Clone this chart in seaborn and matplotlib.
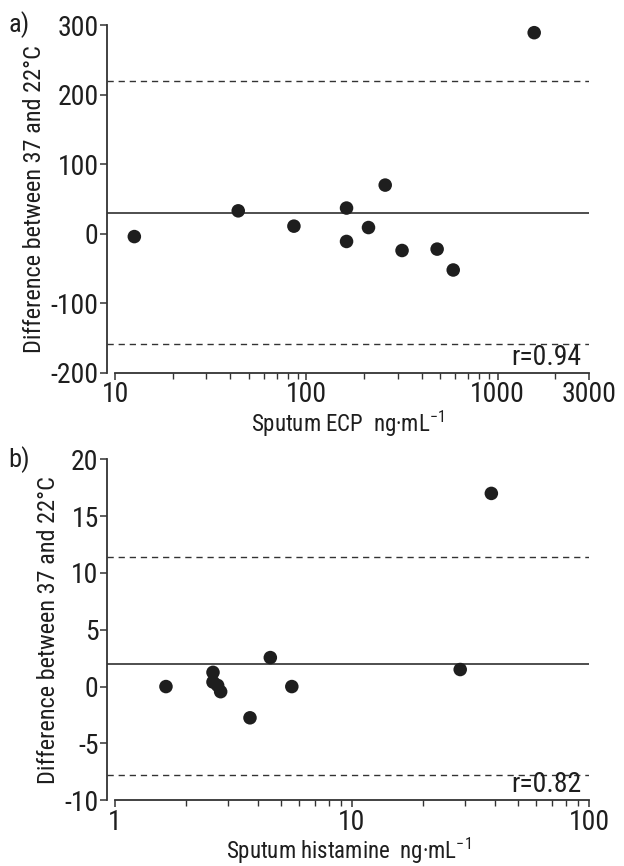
import matplotlib
matplotlib.use('Agg')
import matplotlib.pyplot as plt
import seaborn as sns
import pandas as pd

# Panel a: sputum ECP (ng/mL) vs difference between 37 and 22 C
ecp_x = [12.6, 44, 86, 162, 162, 211, 258, 316, 482, 585, 1550]
ecp_diff = [-4, 33, 11, 37, -11, 9, 70, -24, -22, -52, 289]
ecp_mean = 30.5
ecp_limits = [220, -158]
ecp_r = 'r=0.94'

# Panel b: sputum histamine (ng/mL)
hist_x = [1.64, 2.59, 2.59, 2.71, 2.79, 3.71, 4.52, 5.57, 28.6, 38.7]
hist_diff = [0, 1.25, 0.4, 0.1, -0.45, -2.75, 2.55, 0, 1.5, 17]
hist_mean = 2.0
hist_limits = [11.4, -7.8]
hist_r = 'r=0.82'

ecp_ticks = [10, 100, 1000, 3000]
ecp_yticks = [-200, -100, 0, 100, 200, 300]
hist_ticks = [1, 10, 100]
hist_yticks = [-10, -5, 0, 5, 10, 15, 20]

sns.set_style('ticks')
plt.rcParams['font.family'] = ['DejaVu Sans Condensed', 'Liberation Sans Narrow',
                               'Roboto Condensed', 'Roboto', 'DejaVu Sans']
plt.rcParams['font.stretch'] = 'condensed'
plt.rcParams['mathtext.default'] = 'regular'
plt.rcParams['font.size'] = 15

ink = '#1e1e1e'
fig = plt.figure(figsize=(6.24, 8.66), dpi=100)
ax1 = fig.add_axes([0.1715, 0.5693, 0.7725, 0.4018])
ax2 = fig.add_axes([0.1715, 0.0760, 0.7725, 0.3936])


def draw_panel(ax, xs, ys, mean, limits, rtext, xlim, ylim, xticks, yticks, xlabel, tag):
    df = pd.DataFrame({'x': xs, 'y': ys})
    sns.scatterplot(data=df, x='x', y='y', ax=ax, color=ink, s=95,
                    edgecolor='none', zorder=3)
    ax.axhline(mean, color=ink, lw=1.1)
    for lim in limits:
        ax.axhline(lim, color='#333333', lw=1.0, ls=(0, (4.5, 3.5)))
    ax.set_xscale('log')
    ax.set_xlim(*xlim)
    ax.set_ylim(*ylim)
    ax.set_xticks(xticks)
    ax.set_xticklabels([str(t) for t in xticks])
    ax.set_yticks(yticks)
    ax.set_yticklabels([str(t) for t in yticks])
    ax.spines['right'].set_visible(False)
    ax.spines['top'].set_visible(False)
    ax.spines['bottom'].set_bounds(xticks[0], xticks[-1])
    for sp in ('left', 'bottom'):
        ax.spines[sp].set_color('#333333')
        ax.spines[sp].set_linewidth(1.3)
    ax.tick_params(axis='both', which='major', length=5, width=1.1,
                   color='#333333', labelcolor=ink, labelsize=20, pad=1)
    ax.tick_params(axis='x', which='minor', length=4, width=1.0, color='#333333')
    ax.set_xlabel(xlabel, fontsize=16.5, color=ink, labelpad=0)
    ax.set_ylabel('Difference between 37 and 22°C', fontsize=17.5, color=ink, labelpad=3)
    ax.text(0.985, 0.005, rtext, transform=ax.transAxes, ha='right', va='bottom',
            fontsize=20, color=ink)
    ax.text(-0.16, 1.0, tag, transform=ax.transAxes, ha='right', va='center',
            fontsize=19, color=ink)


draw_panel(ax1, ecp_x, ecp_diff, ecp_mean, ecp_limits, ecp_r,
           (9.07, 3000), (-200, 300), ecp_ticks, ecp_yticks,
           'Sputum ECP  ng·mL$^{-1}$', 'a)')
draw_panel(ax2, hist_x, hist_diff, hist_mean, hist_limits, hist_r,
           (0.925, 100), (-10, 20), hist_ticks, hist_yticks,
           'Sputum histamine  ng·mL$^{-1}$', 'b)')

fig.savefig('out.png', dpi=100)
